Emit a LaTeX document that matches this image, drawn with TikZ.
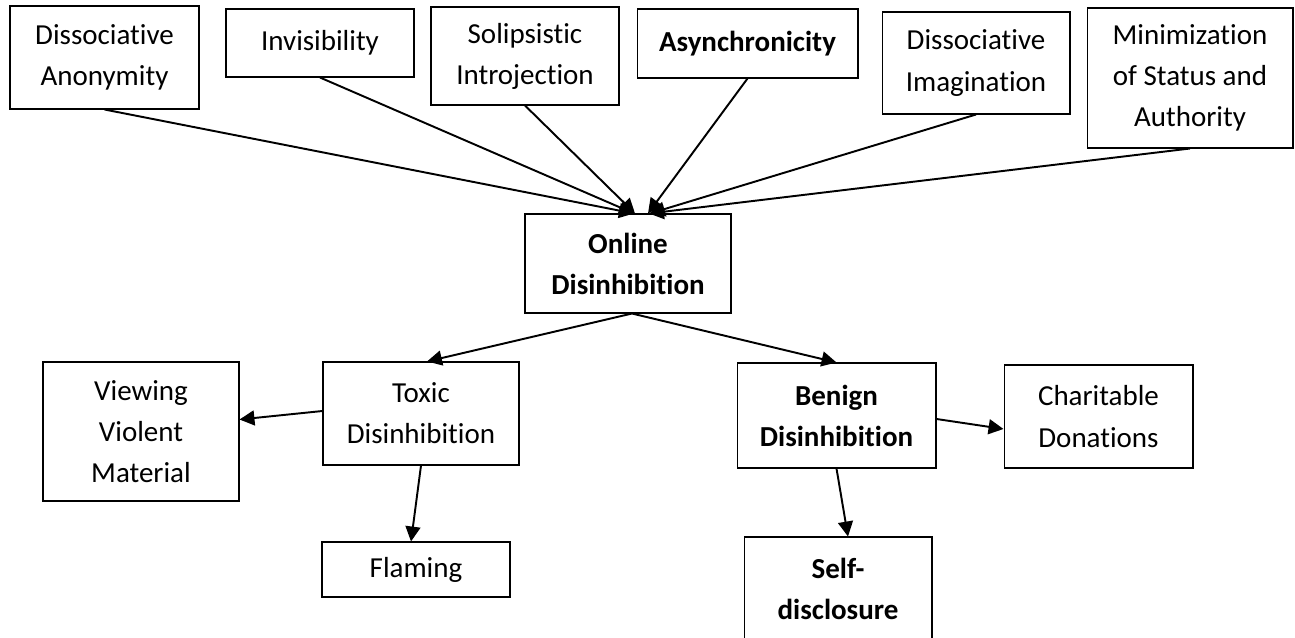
\documentclass[tikz,border=0pt]{standalone}
\usepackage{fontspec}
\setmainfont{Carlito}[Ligatures=NoCommon]
\usetikzlibrary{arrows.meta}

\begin{document}
\begin{tikzpicture}[x=0.02cm,y=-0.02cm,
        blk/.style={draw,line width=0.6pt,inner sep=0pt,align=center,
            font=\fontsize{16.5}{23.4}\selectfont},
        link/.style={line width=1.1pt,-{Triangle[length=8.5pt,width=8.5pt]}}]
    \useasboundingbox (0,0) rectangle (1295,638);
    \node[blk,minimum width=3.78cm,minimum height=2.06cm] (da) at (104.5,57.5) {Dissociative\\Anonymity};
    \node[blk,minimum width=3.76cm,minimum height=1.36cm] (inv) at (320,43) {Invisibility};
    \node[blk,minimum width=3.76cm,minimum height=1.96cm] (sol) at (525,56) {Solipsistic\\Introjection};
    \node[blk,minimum width=4.42cm,minimum height=1.38cm] (asy) at (747.5,43.5) {\textbf{Asynchronicity}};
    \node[blk,minimum width=3.76cm,minimum height=2.04cm] (dim) at (976,63) {Dissociative\\Imagination};
    \node[blk,minimum width=4.12cm,minimum height=2.8cm] (msa) at (1190,78) {Minimization\\of Status and\\Authority};
    \node[blk,minimum width=4.12cm,minimum height=1.98cm] (od) at (628,263.5) {\textbf{Online}\\\textbf{Disinhibition}};
    \node[blk,minimum width=3.92cm,minimum height=2.78cm] (vvm) at (141,431.5) {Viewing\\Violent\\Material};
    \node[blk,minimum width=3.92cm,minimum height=2.06cm] (tox) at (421,413.5) {Toxic\\Disinhibition};
    \node[blk,minimum width=3.76cm,minimum height=1.1cm] (flm) at (416,569.5) {Flaming};
    \node[blk,minimum width=3.98cm,minimum height=2.1cm] (ben) at (836.5,415.5) {\textbf{Benign}\\\textbf{Disinhibition}};
    \node[blk,minimum width=3.78cm,minimum height=2.06cm] (chr) at (1098.5,416.5) {Charitable\\Donations};
    \node[blk,minimum width=3.76cm,minimum height=2.06cm] (self) at (838,588.5) {\textbf{Self-}\\\textbf{disclosure}};

    \draw[link] (da.south) -- ([xshift=0.12cm]od.north);
    \draw[link] (inv.south) -- ([xshift=0.12cm]od.north);
    \draw[link] (sol.south) -- ([xshift=0.14cm]od.north);
    \draw[link] (asy.south) -- ([xshift=0.4cm]od.north);
    \draw[link] (dim.south) -- ([xshift=0.44cm]od.north);
    \draw[link] (msa.south) -- ([xshift=0.42cm]od.north);
    \draw[link] ([xshift=0.08cm]od.south) -- ([xshift=0.12cm]tox.north);
    \draw[link] ([xshift=0.08cm]od.south) -- (ben.north);
    \draw[link] ([yshift=0.05cm]tox.west) -- ([yshift=0.24cm]vvm.east);
    \draw[link] (tox.south) -- ([xshift=-0.1cm]flm.north);
    \draw[link] ([yshift=-0.07cm]ben.east) -- ([yshift=-0.25cm]chr.west);
    \draw[link] (ben.south) -- ([xshift=0.2cm]self.north);
\end{tikzpicture}
\end{document}
